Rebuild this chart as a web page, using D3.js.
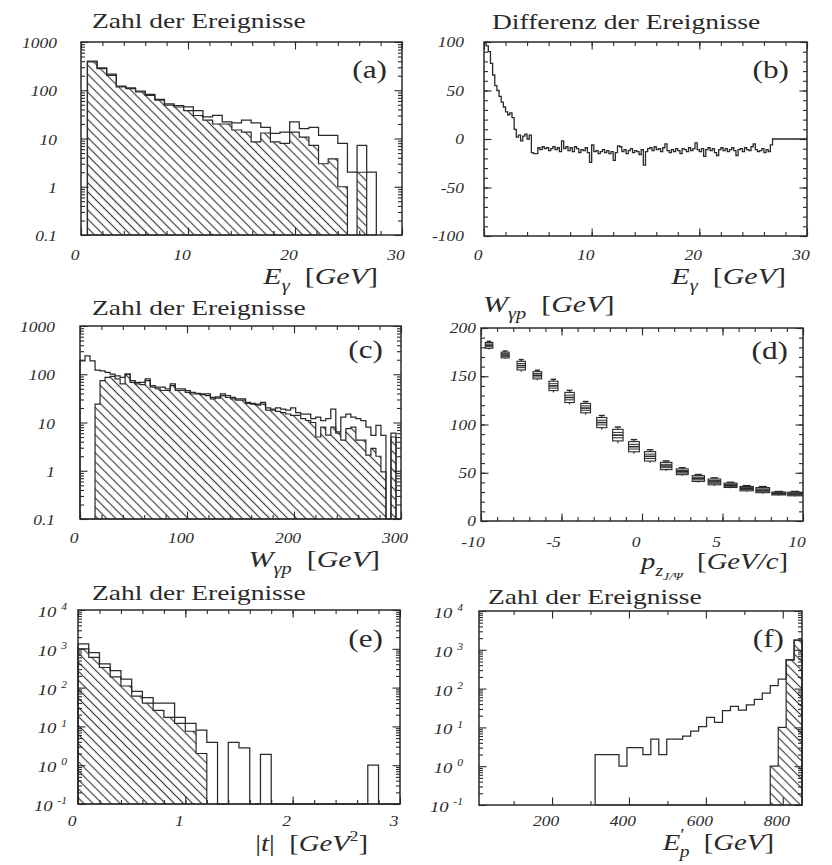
<!DOCTYPE html>
<html>
<head>
<meta charset="utf-8">
<script src="https://cdn.jsdelivr.net/npm/d3@7"></script>
<style>
  html, body { margin: 0; padding: 0; background: #fff; }
  svg { display: block; }
  svg text { font-family: "Liberation Serif", "DejaVu Serif", "Times New Roman", serif; }
</style>
</head>
<body>
<svg id="fig" width="832" height="865"></svg>
<script>
// ---------------- data ----------------
// (a) photon energy, all events (open) and selected events (hatched)
const eGammaStart = 0.6, eGammaWidth = 0.9;
const eGammaAll = [400, 290, 215, 122, 112, 96, 82, 65, 52, 48, 45, 38, 28, 30, 22, 21, 24, 21, 17, 12.7,
                   13.6, 22, 16, 17, 11.6, 11.6, 7.9, 2.0, 7.2, 2.0];
const eGammaSel = [385, 280, 204, 117, 108, 92, 78, 62, 49, 45, 38, 30, 24, 20, 20, 15, 13.6, 8.5, 13, 8.5,
                   7.9, 13.6, 10.7, 7.2, 3.0, 3.8, 1.0, 0, 2.0, 0];

// (b) difference of event counts vs photon energy
const diffStart = 0, diffWidth = 0.2;
const diffValues = [
  99, 96, 90, 78, 66, 55, 50, 44, 38, 33,
  28, 25, 27, 22, 10, 2, 4, -2, 3, 5,
  0, 4, -14, -15, -15, -9, -11, -8, -10, -9,
  -12, -10, -8, -11, -9, -13, -2, -10, -8, -12,
  -9, -13, -8, -10, -14, -11, -12, -9, -14, -24,
  -6, -13, -12, -15, -13, -11, -14, -12, -15, -13,
  -22, -14, -7, -8, -13, -11, -15, -12, -10, -14,
  -12, -13, -16, -11, -27, -13, -10, -9, -12, -8,
  -11, -10, -13, -9, -5, -12, -14, -11, -13, -10,
  -12, -15, -10, -11, -13, -9, -12, -10, -4, -11,
  -13, -10, -18, -11, -9, -12, -10, -14, -17, -11,
  -9, -12, -10, -13, -11, -9, -12, -17, -11, -10,
  -13, -9, -11, -12, -8, -5, -11, -13, -12, -10,
  -14, -11, -13, -6, 0, 0, 0, 0, 0, 0,
  0, 0, 0, 0, 0, 0, 0, 0, 0, 0
];

// (c) photon-proton centre-of-mass energy
const wgpStart = 0, wgpWidth = 300 / 64;
const wgpAll = [190, 240, 190, 122, 118, 110, 101, 93, 86, 101, 74, 68, 68, 80, 58, 54, 54, 50, 63, 50,
                50, 46, 42, 40, 39, 39, 33, 34, 39, 36, 33, 31, 31, 26, 25, 24, 26, 20, 19, 20,
                19, 18, 20, 16, 15, 15, 12, 13, 11, 12, 19, 6.4, 13, 15, 13, 12, 11, 8, 5.4, 8.7,
                5.4, 0, 6, 0];
const wgpSel = [0, 0, 0, 24, 74, 86, 90, 80, 63, 101, 68, 63, 61, 74, 54, 50, 46, 46, 58, 46,
                46, 42, 39, 39, 38, 36, 31, 32, 36, 33, 31, 29, 29, 25, 24, 23, 24, 18, 18, 17,
                16, 15, 14, 14, 12, 11, 10, 5, 8, 5.5, 8, 6, 4.3, 7.5, 8, 4.3, 4.3, 2.1, 2.9, 2.0,
                0.95, 0, 5, 0];

// (d) W_gamma-p against longitudinal J/psi momentum
const pzCenters = [-9.5, -8.5, -7.5, -6.5, -5.5, -4.5, -3.5, -2.5, -1.5, -0.5,
                   0.5, 1.5, 2.5, 3.5, 4.5, 5.5, 6.5, 7.5, 8.5, 9.5];
const wMean   = [182, 172, 161, 151, 140, 128, 117, 102, 89, 77,
                 67, 57, 51, 44, 40.5, 37, 33.5, 32, 28.5, 28];
const wSpread = [4, 4, 6, 5, 6.5, 7, 6.5, 7, 8, 7,
                 6.5, 5, 4, 4, 4, 3, 3, 3.5, 2, 2.5];

// (e) momentum transfer |t|
const tStart = 0, tWidth = 0.1;
const tAll = [1340, 800, 410, 275, 165, 80, 55, 40, 40, 17, 12, 8, 3.9, 0, 3.9, 2.8, 0, 1.9, 0, 0,
              0, 0, 0, 0, 0, 0, 0, 1.0, 0, 0];
const tSel = [1000, 600, 330, 190, 110, 60, 40, 26, 17, 12, 7.5, 2, 0, 0, 0, 0, 0, 0, 0, 0,
              0, 0, 0, 0, 0, 0, 0, 0, 0, 0];

// (f) scattered proton energy
const epStart = 312, epWidth = 20.7;
const epAll = [2, 2, 2, 1, 3, 3, 2, 5, 2, 5, 5, 6, 8, 10.5, 18, 13.5, 27, 35, 28, 38,
               53, 76, 120, 175, 550, 1780];
const epSel = [0, 0, 0, 0, 0, 0, 0, 0, 0, 0, 0, 0, 0, 0, 0, 0, 0, 0, 0, 0,
               0, 0, 1, 10, 550, 1780];

// tick labels
const eTicks = [0, 10, 20, 30];
const countDecades = [0.1, 1, 10, 100, 1000];
const countDecadeLabels = ["0.1", "1", "10", "100", "1000"];
const diffTicks = [-100, -50, 0, 50, 100];
const wgpTicks = [0, 100, 200, 300];
const pzTicks = [-10, -5, 0, 5, 10];
const wTicks = [0, 50, 100, 150, 200];
const tTicks = [0, 1, 2, 3];
const powerExps = [-1, 0, 1, 2, 3, 4];
const epTicks = [200, 400, 600, 800];

// ---------------- drawing ----------------
const INK = "#2a2a2a";
const SX = 1.25;                       // horizontal glyph stretch of all lettering
const SERIF = "\"Liberation Serif\", \"DejaVu Serif\", \"Times New Roman\", serif";
const svg = d3.select("#fig");

svg.append("rect").attr("width", 832).attr("height", 865).attr("fill", "#fff");

const defs = svg.append("defs");
defs.append("pattern")
  .attr("id", "hatch")
  .attr("patternUnits", "userSpaceOnUse")
  .attr("width", 6.4).attr("height", 10)
  .attr("patternTransform", "rotate(-45)")
  .append("line")
  .attr("x1", 3.2).attr("y1", -1).attr("x2", 3.2).attr("y2", 11)
  .attr("stroke", "#3a3a3a").attr("stroke-width", 1.15);

const layout = {
  a: { x0: 81,  x1: 402, y0: 42,  y1: 235 },
  b: { x0: 484, x1: 807, y0: 42,  y1: 236 },
  c: { x0: 80,  x1: 401, y0: 326, y1: 519 },
  d: { x0: 481, x1: 803, y0: 328, y1: 521 },
  e: { x0: 78,  x1: 400, y0: 610, y1: 804 },
  f: { x0: 479, x1: 802, y0: 611, y1: 805 }
};

function txt(parent, x, y, o = {}) {
  return parent.append("text")
    .attr("transform", `translate(${x},${y}) scale(${SX},1)`)
    .attr("text-anchor", o.anchor || "start")
    .style("font-family", SERIF)
    .attr("font-size", o.size || 14)
    .attr("font-style", o.italic ? "italic" : "normal")
    .attr("fill", INK)
    .style("white-space", "pre");
}

// text made of runs: {t, it, sub, sup, sub2}
function rich(parent, x, y, parts, size, anchor) {
  const t = txt(parent, x, y, { size, anchor });
  let cur = 0;
  parts.forEach(p => {
    let shift = 0, fs = size;
    if (p.sub)  { shift = size * 0.30; fs = size * 0.68; }
    if (p.sub2) { shift = size * 0.50; fs = size * 0.48; }
    if (p.sup)  { shift = -size * 0.45; fs = size * (p.scale || 0.62); }
    t.append("tspan")
      .attr("dy", shift - cur)
      .attr("dx", p.dx || 0)
      .attr("font-size", fs)
      .attr("font-style", p.it ? "italic" : "normal")
      .text(p.t);
    cur = shift;
  });
  return t;
}

function tickSet(g, scale, side, pos, values, len) {
  const ax = side === "bottom" ? d3.axisBottom(scale)
           : side === "top" ? d3.axisTop(scale)
           : side === "left" ? d3.axisLeft(scale) : d3.axisRight(scale);
  ax.tickValues(values).tickSize(-len).tickFormat("");
  const tr = (side === "bottom" || side === "top") ? `translate(0,${pos})` : `translate(${pos},0)`;
  g.append("g").attr("transform", tr).call(ax)
    .call(s => s.select(".domain").remove())
    .call(s => s.selectAll("text").remove())
    .call(s => s.selectAll("line").attr("stroke", INK).attr("stroke-width", 1.1));
}

function allSides(g, L, x, y, xMajor, xMinor, yMajor, yMinor) {
  [["bottom", L.y1], ["top", L.y0]].forEach(([s, p]) => {
    tickSet(g, x, s, p, xMinor, 4);
    tickSet(g, x, s, p, xMajor, 7.5);
  });
  [["left", L.x0], ["right", L.x1]].forEach(([s, p]) => {
    tickSet(g, y, s, p, yMinor, 4);
    tickSet(g, y, s, p, yMajor, 7.5);
  });
  g.append("rect")
    .attr("x", L.x0).attr("y", L.y0)
    .attr("width", L.x1 - L.x0).attr("height", L.y1 - L.y0)
    .attr("fill", "none").attr("stroke", INK).attr("stroke-width", 1.5);
}

function logMinor(lo, hi) {
  const out = [];
  for (let e = Math.round(Math.log10(lo)); e < Math.round(Math.log10(hi)); e++)
    for (let m = 2; m <= 9; m++) out.push(m * Math.pow(10, e));
  return out;
}
function linMinor(lo, hi, step) {
  return d3.range(Math.round((hi - lo) / step) + 1).map(i => lo + i * step);
}
function edgesOf(start, width, n) {
  return d3.range(n + 1).map(i => start + width * i);
}
function histPath(edges, vals, x, y, floor) {
  const p = d3.path();
  p.moveTo(x(edges[0]), y(floor));
  vals.forEach((v, i) => { p.lineTo(x(edges[i]), y(v)); p.lineTo(x(edges[i + 1]), y(v)); });
  p.lineTo(x(edges[vals.length]), y(floor));
  return p.toString();
}
function drawHists(g, x, y, floor, edges, all, sel) {
  g.append("path").attr("d", histPath(edges, sel, x, y, floor) + "Z")
    .attr("fill", "url(#hatch)").attr("stroke", INK).attr("stroke-width", 1.2)
    .attr("stroke-linejoin", "miter");
  g.append("path").attr("d", histPath(edges, all, x, y, floor))
    .attr("fill", "none").attr("stroke", INK).attr("stroke-width", 1.25);
}

function xLabels(g, x, values, base) {
  values.forEach(v => {
    txt(g, x(v) - (v < 0 ? 8 : 6), base, { anchor: "middle", italic: true, size: 14 }).text(String(v));
  });
}
function yLabels(g, y, values, labels, right, dy) {
  values.forEach((v, i) => {
    txt(g, right, y(v) + dy, { anchor: "end", italic: true, size: 14 }).text(labels[i]);
  });
}
function yPowerLabels(g, y, exps, right) {
  exps.forEach(e => {
    rich(g, right, y(Math.pow(10, e)) + 7,
      [{ t: "10", it: true }, { t: " " }, { t: String(e), it: true, sup: true }], 15, "end");
  });
}
function panelTag(g, xr, base, s) {
  txt(g, xr, base, { anchor: "end", size: 25 }).text(s);
}
function title(g, x, base, s) {
  txt(g, x, base, { size: 22 }).text(s);
}

// ---- (a) ----
{
  const L = layout.a, g = svg.append("g");
  const x = d3.scaleLinear().domain([0, 30]).range([L.x0, L.x1]);
  const y = d3.scaleLog().domain([0.1, 1000]).range([L.y1, L.y0]).clamp(true);
  drawHists(g, x, y, 0.1, edgesOf(eGammaStart, eGammaWidth, eGammaAll.length), eGammaAll, eGammaSel);
  allSides(g, L, x, y, eTicks, linMinor(0, 30, 2), countDecades, logMinor(0.1, 1000));
  xLabels(g, x, eTicks, 260);
  yLabels(g, y, countDecades, countDecadeLabels, 57, 6);
  title(g, 92, 28, "Zahl der Ereignisse");
  panelTag(g, 387, 78, "(a)");
  rich(g, 378, 284, [{ t: "E", it: true }, { t: "γ", it: true, sub: true }, { t: "  [" },
    { t: "GeV", it: true }, { t: "]" }], 24, "end");
}

// ---- (b) ----
{
  const L = layout.b, g = svg.append("g");
  const x = d3.scaleLinear().domain([0, 30]).range([L.x0, L.x1]);
  const y = d3.scaleLinear().domain([-100, 100]).range([L.y1, L.y0]);
  const edges = edgesOf(diffStart, diffWidth, diffValues.length);
  const p = d3.path();
  p.moveTo(x(edges[0]), y(diffValues[0]));
  diffValues.forEach((v, i) => { p.lineTo(x(edges[i]), y(v)); p.lineTo(x(edges[i + 1]), y(v)); });
  g.append("path").attr("d", p.toString()).attr("fill", "none")
    .attr("stroke", INK).attr("stroke-width", 1.3);
  allSides(g, L, x, y, eTicks, linMinor(0, 30, 2), diffTicks, linMinor(-100, 100, 10));
  xLabels(g, x, eTicks, 260);
  yLabels(g, y, diffTicks, diffTicks.map(String), 464, 5);
  title(g, 492, 29, "Differenz der Ereignisse");
  panelTag(g, 789, 78, "(b)");
  rich(g, 786, 284, [{ t: "E", it: true }, { t: "γ", it: true, sub: true }, { t: "  [" },
    { t: "GeV", it: true }, { t: "]" }], 24, "end");
}

// ---- (c) ----
{
  const L = layout.c, g = svg.append("g");
  const x = d3.scaleLinear().domain([0, 300]).range([L.x0, L.x1]);
  const y = d3.scaleLog().domain([0.1, 1000]).range([L.y1, L.y0]).clamp(true);
  drawHists(g, x, y, 0.1, edgesOf(wgpStart, wgpWidth, wgpAll.length), wgpAll, wgpSel);
  allSides(g, L, x, y, wgpTicks, linMinor(0, 300, 20), countDecades, logMinor(0.1, 1000));
  xLabels(g, x, wgpTicks, 543);
  yLabels(g, y, countDecades, countDecadeLabels, 55, 6);
  title(g, 92, 315, "Zahl der Ereignisse");
  panelTag(g, 383, 358, "(c)");
  rich(g, 380, 567, [{ t: "W", it: true }, { t: "γp", it: true, sub: true }, { t: "  [" },
    { t: "GeV", it: true }, { t: "]" }], 24, "end");
}

// ---- (d) ----
{
  const L = layout.d, g = svg.append("g");
  const x = d3.scaleLinear().domain([-10, 10]).range([L.x0, L.x1]);
  const y = d3.scaleLinear().domain([0, 200]).range([L.y1, L.y0]);
  pzCenters.forEach((pz, i) => {
    const cx = x(pz), cy = y(wMean[i]);
    const hs = y(wMean[i] - wSpread[i]) - cy;
    const hw = 3.8 + 3.4 * i / (pzCenters.length - 1);
    const s = g.append("g").attr("stroke", INK).attr("fill", "none");
    s.append("rect").attr("x", cx - hw).attr("y", cy - 0.75 * hs)
      .attr("width", 2 * hw).attr("height", 1.5 * hs).attr("stroke-width", 1.1);
    s.append("line").attr("x1", cx - hw).attr("x2", cx + hw).attr("y1", cy).attr("y2", cy)
      .attr("stroke-width", 1.6);
    [-0.35, 0.35].forEach(f => {
      s.append("line").attr("x1", cx - hw).attr("x2", cx + hw)
        .attr("y1", cy + f * hs).attr("y2", cy + f * hs).attr("stroke-width", 1.0);
    });
    s.append("line").attr("x1", cx).attr("x2", cx).attr("y1", cy - 1.05 * hs).attr("y2", cy - 0.75 * hs)
      .attr("stroke-width", 1.1);
    s.append("line").attr("x1", cx).attr("x2", cx).attr("y1", cy + 0.75 * hs).attr("y2", cy + 1.05 * hs)
      .attr("stroke-width", 1.1);
    s.append("line").attr("x1", cx - hw * 0.6).attr("x2", cx + hw * 0.6)
      .attr("y1", cy - 1.05 * hs).attr("y2", cy - 1.05 * hs).attr("stroke-width", 1.4);
  });
  allSides(g, L, x, y, pzTicks, linMinor(-10, 10, 1), wTicks, linMinor(0, 200, 10));
  xLabels(g, x, pzTicks, 547);
  yLabels(g, y, wTicks, wTicks.map(String), 476, 5);
  rich(g, 483, 312, [{ t: "W", it: true }, { t: "γp", it: true, sub: true }, { t: "  [" },
    { t: "GeV", it: true }, { t: "]" }], 24, "start");
  panelTag(g, 788, 359, "(d)");
  rich(g, 788, 569, [{ t: "p", it: true }, { t: "z", it: true, sub: true },
    { t: "J/Ψ", it: true, sub2: true }, { t: "  [" }, { t: "GeV/c", it: true }, { t: "]" }], 23, "end");
}

// ---- (e) ----
{
  const L = layout.e, g = svg.append("g");
  const x = d3.scaleLinear().domain([0, 3]).range([L.x0, L.x1]);
  const y = d3.scaleLog().domain([0.1, 10000]).range([L.y1, L.y0]).clamp(true);
  drawHists(g, x, y, 0.1, edgesOf(tStart, tWidth, tAll.length), tAll, tSel);
  allSides(g, L, x, y, tTicks, linMinor(0, 3, 0.2), powerExps.map(e => Math.pow(10, e)), logMinor(0.1, 10000));
  xLabels(g, x, tTicks, 826);
  yPowerLabels(g, y, powerExps, 67);
  title(g, 92, 600, "Zahl der Ereignisse");
  panelTag(g, 383, 647, "(e)");
  rich(g, 368, 851, [{ t: "|" }, { t: "t", it: true }, { t: "|" }, { t: "  [" },
    { t: "GeV", it: true }, { t: "2", sup: true, scale: 0.6 }, { t: "]" }], 23, "end");
}

// ---- (f) ----
{
  const L = layout.f, g = svg.append("g");
  const x = d3.scaleLinear().domain([10, 850]).range([L.x0, L.x1]);
  const y = d3.scaleLog().domain([0.1, 10000]).range([L.y1, L.y0]).clamp(true);
  drawHists(g, x, y, 0.1, edgesOf(epStart, epWidth, epAll.length), epAll, epSel);
  allSides(g, L, x, y, epTicks, [100, 300, 500, 700], powerExps.map(e => Math.pow(10, e)), logMinor(0.1, 10000));
  xLabels(g, x, epTicks, 826);
  yPowerLabels(g, y, powerExps, 463);
  title(g, 488, 604, "Zahl der Ereignisse");
  panelTag(g, 784, 647, "(f)");
  rich(g, 774, 850, [{ t: "E", it: true }, { t: "′", sup: true, scale: 0.7 },
    { t: "p", it: true, sub: true, dx: -4 }, { t: "  [" }, { t: "GeV", it: true }, { t: "]" }], 23, "end");
}
</script>
</body>
</html>
